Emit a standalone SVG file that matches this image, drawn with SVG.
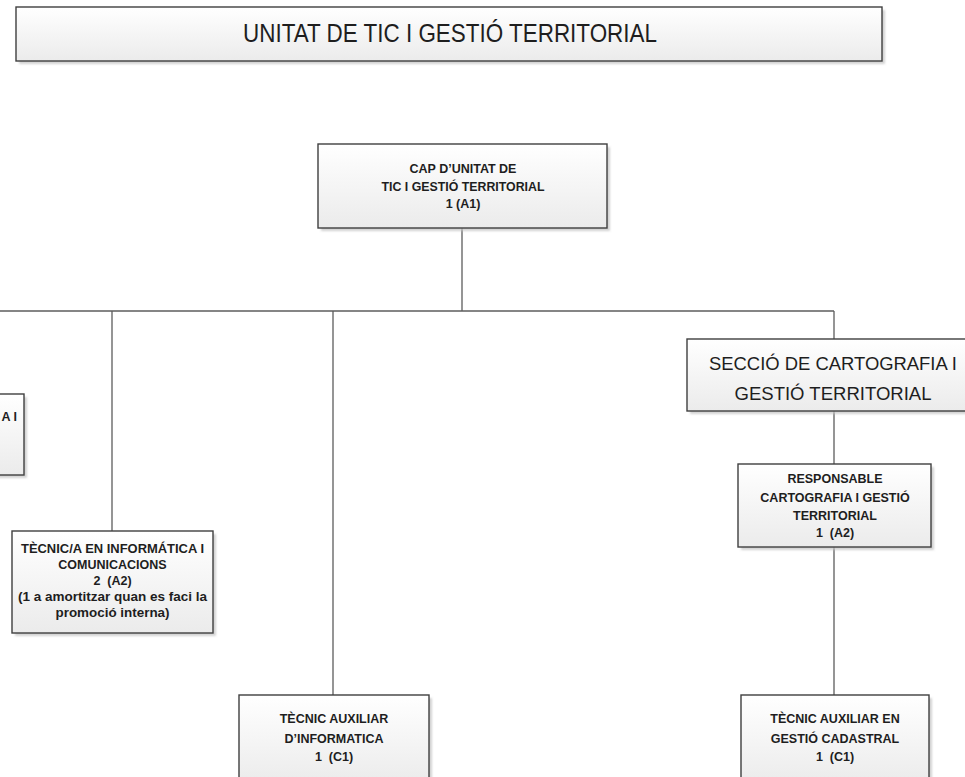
<svg xmlns="http://www.w3.org/2000/svg" width="965" height="777" viewBox="0 0 965 777">
  <defs>
    <linearGradient id="boxFill" x1="0" y1="0" x2="0" y2="1">
      <stop offset="0" stop-color="#ffffff"/>
      <stop offset="1" stop-color="#ebebeb"/>
    </linearGradient>
    <filter id="soft" x="-5%" y="-5%" width="110%" height="110%">
      <feGaussianBlur stdDeviation="0.8"/>
    </filter>
  </defs>
  <style>
    .box { fill: url(#boxFill); stroke: #3f3f3f; stroke-width: 1.4; }
    .shadow { fill: #c4c4c4; opacity: 0.75; filter: url(#soft); }
    .conn { fill: none; stroke: #5c5c5c; stroke-width: 1.3; }
    .lbl { font-family: "Liberation Sans", Arial, sans-serif; font-weight: bold; font-size: 12.5px; fill: #1e1e1e; text-anchor: middle; }
    .big { font-family: "Liberation Sans", Arial, sans-serif; font-weight: normal; fill: #1e1e1e; text-anchor: middle; }
  </style>

  <rect width="965" height="777" fill="#ffffff"/>

  <!-- connectors -->
  <g id="connectors">
    <path class="conn" d="M462 228 V311"/>
    <path class="conn" d="M0 311 H834"/>
    <path class="conn" d="M112 311 V531"/>
    <path class="conn" d="M333 311 V695"/>
    <path class="conn" d="M834 311 V339"/>
    <path class="conn" d="M834 411 V464"/>
    <path class="conn" d="M834 547 V695"/>
  </g>

  <!-- title banner -->
  <g id="title">
    <rect class="shadow" x="19" y="10" width="866" height="54"/>
    <rect class="box" x="16" y="7" width="866" height="54"/>
    <text class="big" x="450" y="42" font-size="25" textLength="414" lengthAdjust="spacingAndGlyphs">UNITAT DE TIC I GESTIÓ TERRITORIAL</text>
  </g>

  <!-- head of unit -->
  <g id="cap-unitat">
    <rect class="shadow" x="321" y="147" width="289" height="84"/>
    <rect class="box" x="318" y="144" width="289" height="84"/>
    <text class="lbl" x="463" y="172.5">CAP D’UNITAT DE</text>
    <text class="lbl" x="463" y="190.5" textLength="163" lengthAdjust="spacingAndGlyphs">TIC I GESTIÓ TERRITORIAL</text>
    <text class="lbl" x="463" y="207.5">1 (A1)</text>
  </g>

  <!-- partially visible box on the left edge -->
  <g id="left-box">
    <rect class="shadow" x="-10" y="397" width="37" height="81"/>
    <rect class="box" x="-10" y="394" width="34" height="81"/>
    <text class="lbl" x="17" y="421" style="text-anchor:end">A I</text>
  </g>

  <!-- IT technician -->
  <g id="tecnic-informatica">
    <rect class="shadow" x="15" y="534" width="201" height="102"/>
    <rect class="box" x="12" y="531" width="201" height="102"/>
    <text class="lbl" x="112.5" y="553" textLength="183" lengthAdjust="spacingAndGlyphs">TÈCNIC/A EN INFORMÁTICA I</text>
    <text class="lbl" x="112.5" y="568.5">COMUNICACIONS</text>
    <text class="lbl" x="112.5" y="584.5">2&#160;&#160;(A2)</text>
    <text class="lbl" x="112.5" y="600.5" textLength="189" lengthAdjust="spacingAndGlyphs">(1 a amortitzar quan es faci la</text>
    <text class="lbl" x="112.5" y="617" textLength="114" lengthAdjust="spacingAndGlyphs">promoció interna)</text>
  </g>

  <!-- auxiliary IT technician -->
  <g id="tecnic-auxiliar-informatica">
    <rect class="shadow" x="242" y="698" width="190" height="90"/>
    <rect class="box" x="239" y="695" width="190" height="90"/>
    <text class="lbl" x="334" y="722.5">TÈCNIC AUXILIAR</text>
    <text class="lbl" x="334" y="742.5">D’INFORMATICA</text>
    <text class="lbl" x="334" y="761">1&#160;&#160;(C1)</text>
  </g>

  <!-- cartography section -->
  <g id="seccio-cartografia">
    <rect class="shadow" x="690" y="342" width="290" height="72"/>
    <rect class="box" x="687" y="339" width="290" height="72"/>
    <text class="big" x="833" y="370" font-size="19" textLength="248" lengthAdjust="spacingAndGlyphs">SECCIÓ DE CARTOGRAFIA I</text>
    <text class="big" x="833" y="400" font-size="19" textLength="197" lengthAdjust="spacingAndGlyphs">GESTIÓ TERRITORIAL</text>
  </g>

  <!-- cartography lead -->
  <g id="responsable-cartografia">
    <rect class="shadow" x="741" y="467" width="193" height="83"/>
    <rect class="box" x="738" y="464" width="193" height="83"/>
    <text class="lbl" x="835" y="482.5">RESPONSABLE</text>
    <text class="lbl" x="835" y="501.5">CARTOGRAFIA I GESTIÓ</text>
    <text class="lbl" x="835" y="520">TERRITORIAL</text>
    <text class="lbl" x="835" y="537">1&#160;&#160;(A2)</text>
  </g>

  <!-- cadastral auxiliary technician -->
  <g id="tecnic-auxiliar-cadastral">
    <rect class="shadow" x="744" y="698" width="188" height="90"/>
    <rect class="box" x="741" y="695" width="188" height="90"/>
    <text class="lbl" x="835" y="723">TÈCNIC AUXILIAR EN</text>
    <text class="lbl" x="835" y="743">GESTIÓ CADASTRAL</text>
    <text class="lbl" x="835" y="761">1&#160;&#160;(C1)</text>
  </g>
</svg>
